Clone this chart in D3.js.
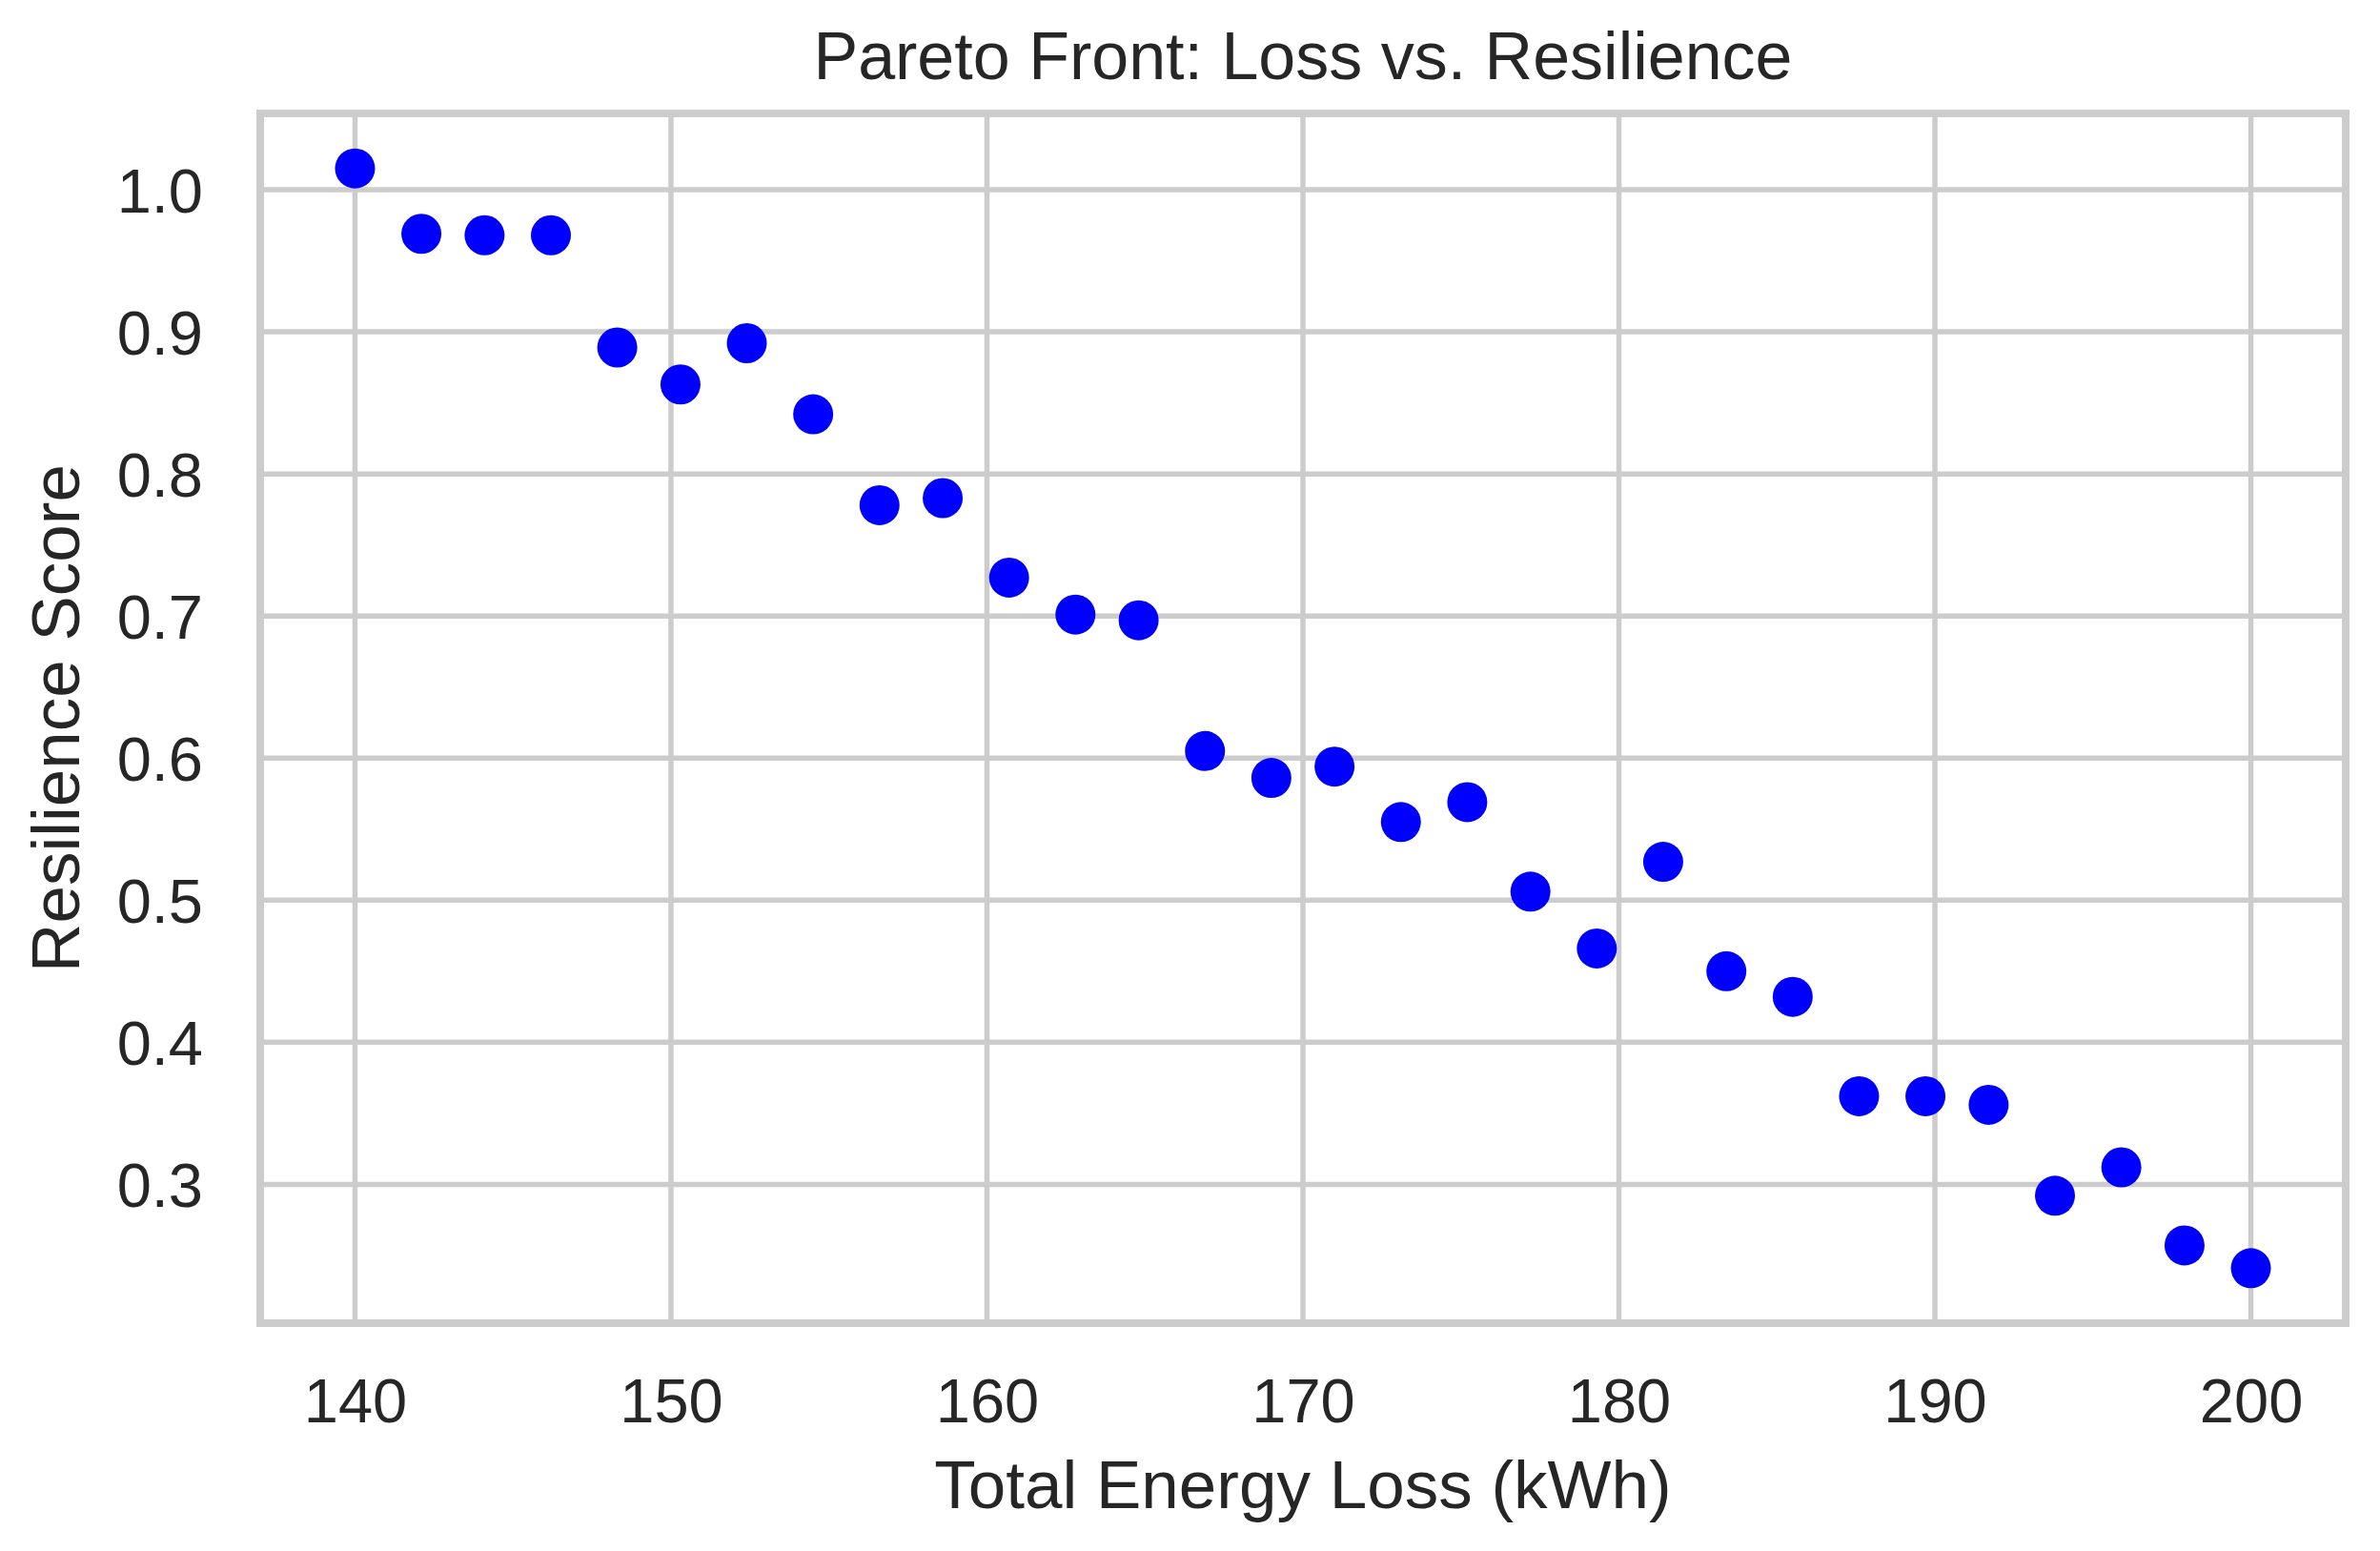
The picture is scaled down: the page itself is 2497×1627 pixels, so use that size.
<!DOCTYPE html>
<html>
<head>
<meta charset="utf-8">
<script src="https://cdn.jsdelivr.net/npm/d3@7"></script>
<style>
  body { margin: 0; background: #fff; }
  svg text { font-family: "Liberation Sans", Arial, sans-serif; fill: #262626; }
</style>
</head>
<body>
<svg id="chart" width="2497" height="1627"></svg>
<script>
// energy loss (kWh) per solution on the front
const loss = [140.0, 142.1, 144.1, 146.2, 148.3, 150.3, 152.4, 154.5, 156.6, 158.6,
              160.7, 162.8, 164.8, 166.9, 169.0, 171.0, 173.1, 175.2, 177.2, 179.3,
              181.4, 183.4, 185.5, 187.6, 189.7, 191.7, 193.8, 195.9, 197.9, 200.0]
// resilience score per solution
const resilience = [1.015, 0.969, 0.968, 0.968, 0.889, 0.863, 0.892, 0.842, 0.778, 0.783,
                    0.727, 0.701, 0.697, 0.605, 0.586, 0.594, 0.555, 0.569, 0.506, 0.466,
                    0.527, 0.450, 0.432, 0.362, 0.362, 0.356, 0.292, 0.312, 0.257, 0.241]
const xTicks = [140, 150, 160, 170, 180, 190, 200]
const yTicks = [0.3, 0.4, 0.5, 0.6, 0.7, 0.8, 0.9, 1.0]

function draw() {
  const width = 2497, height = 1627
  const margin = {top: 119, right: 36, bottom: 239, left: 273}
  const svg = d3.select('#chart')

  const x = d3.scaleLinear().domain([137, 203]).range([margin.left, width - margin.right])
  const y = d3.scaleLinear().domain([0.2023, 1.0537]).range([height - margin.bottom, margin.top])

  // grid
  const grid = svg.append('g')
  grid.selectAll('line.vx')
    .data(xTicks)
    .join('line')
    .attr('x1', d => x(d)).attr('x2', d => x(d))
    .attr('y1', margin.top).attr('y2', height - margin.bottom)
    .style('stroke', '#cccccc').style('stroke-width', 5.5)
  grid.selectAll('line.hy')
    .data(yTicks)
    .join('line')
    .attr('x1', margin.left).attr('x2', width - margin.right)
    .attr('y1', d => y(d)).attr('y2', d => y(d))
    .style('stroke', '#cccccc').style('stroke-width', 5.5)

  // axes (labels only, seaborn whitegrid has no tick marks)
  const xAxis = svg.append('g')
    .attr('transform', `translate(0,${height - margin.bottom})`)
    .call(d3.axisBottom(x).tickValues(xTicks).tickSize(0).tickPadding(58).tickFormat(d3.format('d')))
  const yAxis = svg.append('g')
    .attr('transform', `translate(${margin.left},0)`)
    .call(d3.axisLeft(y).tickValues(yTicks).tickSize(0).tickPadding(60).tickFormat(d3.format('.1f')))
  xAxis.select('.domain').remove()
  yAxis.select('.domain').remove()
  svg.selectAll('.tick text')
    .style('font-size', '65px')
    .style('font-family', '"Liberation Sans", Arial, sans-serif')
    .style('fill', '#262626')
  xAxis.selectAll('.tick text').attr('dy', '0.71em')
  yAxis.selectAll('.tick text').attr('dy', '0.36em')

  // frame
  svg.append('rect')
    .attr('x', margin.left).attr('y', margin.top)
    .attr('width', width - margin.left - margin.right)
    .attr('height', height - margin.top - margin.bottom)
    .style('fill', 'none').style('stroke', '#cccccc').style('stroke-width', 8)

  // points
  svg.append('g')
    .selectAll('circle')
    .data(loss)
    .join('circle')
    .attr('cx', d => x(d))
    .attr('cy', (d, i) => y(resilience[i]))
    .attr('r', 21)
    .style('fill', '#0000ff')

  // title and labels
  svg.append('text')
    .attr('x', (margin.left + width - margin.right) / 2)
    .attr('y', 83)
    .attr('text-anchor', 'middle')
    .style('font-size', '70px')
    .text('Pareto Front: Loss vs. Resilience')
  svg.append('text')
    .attr('x', (margin.left + width - margin.right) / 2)
    .attr('y', 1582)
    .attr('text-anchor', 'middle')
    .style('font-size', '71px')
    .text('Total Energy Loss (kWh)')
  svg.append('text')
    .attr('transform', `translate(83,${(margin.top + height - margin.bottom) / 2}) rotate(-90)`)
    .attr('text-anchor', 'middle')
    .style('font-size', '71px')
    .text('Resilience Score')
}

draw()
</script>
</body>
</html>
